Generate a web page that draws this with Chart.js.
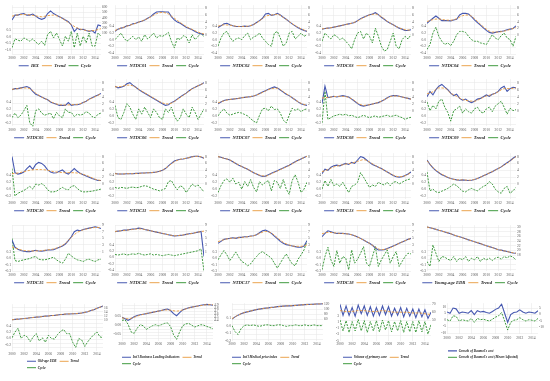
<!DOCTYPE html>
<html>
<head>
<meta charset="utf-8">
<script src="https://cdn.jsdelivr.net/npm/chart.js@4.4.0/dist/chart.umd.min.js"></script>
<style>
  body { margin: 0; background: #fff; }
  #wrap { position: relative; width: 550px; height: 381px; overflow: hidden; }
  #wrap canvas { position: absolute; }
</style>
</head>
<body>
<div id="wrap"></div>
<script>
// x positions (years) of the sampled points
const halfYears = [2000, 2000.5, 2001, 2001.5, 2002, 2002.5, 2003, 2003.5, 2004, 2004.5, 2005, 2005.5, 2006, 2006.5, 2007, 2007.5,
  2008, 2008.5, 2009, 2009.5, 2010, 2010.5, 2011, 2011.5, 2012, 2012.5, 2013, 2013.5, 2014, 2014.5, 2015];
const trendYears = [2000, 2001, 2002, 2003, 2004, 2005, 2006, 2007, 2008, 2009, 2010, 2011, 2012, 2013, 2014, 2015];
const tickYears = [2000, 2002, 2004, 2006, 2008, 2010, 2012, 2014];

// --- series (original, trend, cycle) ---
const irxOrig = [356, 450, 450, 470, 480, 450, 450, 470, 430, 390, 370, 390, 480, 530, 480, 450, 420, 390, 356, 325, 262, 137, 200, 170, 180, 156, 137, 156, 106, 262, 244];
const irxTrend = [430, 455, 460, 455, 435, 420, 440, 450, 415, 350, 270, 205, 170, 150, 160, 190];
const irxCycle = [-0.83, -0.15, -0.25, -0.33, -0.08, -0.2, -0.33, -0.15, -0.4, -0.58, -0.33, -0.65, 0.18, 0.43, -0.08, 0.3, -0.2, -0.7, 0.05, -0.33, 0.43, -0.83, 0.3, -0.7, 0.05, -0.45, 0.3, -0.7, -0.7, 0.3, 0.05];

const ntdc01Orig = [1.0, 1.7, 2.0, 2.2, 2.7, 2.9, 3.3, 3.5, 3.9, 4.1, 4.5, 5.0, 5.5, 6.3, 6.9, 7.0, 7.0, 6.9, 6.9, 5.5, 4.5, 3.9, 3.5, 2.9, 2.3, 1.9, 1.5, 1.0, 0.5, 0.3, 0.0];
const ntdc01Trend = [1.3, 2.0, 2.6, 3.2, 3.8, 4.5, 5.4, 6.4, 6.8, 6.3, 5.0, 3.7, 2.5, 1.6, 0.8, 0.2];
const ntdc01Cycle = [0.0, 0.1, 0.2, 0.05, -0.05, 0.02, 0.1, 0.0, 0.08, -0.05, 0.15, 0.02, 0.1, 0.2, 0.05, 0.12, 0.1, 0.15, 0.22, -0.05, -0.25, 0.05, 0.0, 0.12, 0.08, -0.1, 0.15, 0.0, 0.1, 0.2, 0.08];

const ntdc02Orig = [2.2, 2.7, 3.3, 3.5, 3.0, 2.7, 2.5, 2.5, 2.5, 2.6, 2.5, 2.7, 3.1, 3.7, 4.3, 5.0, 6.3, 6.5, 5.9, 6.1, 6.5, 6.0, 5.3, 4.7, 4.0, 3.3, 2.7, 2.1, 1.7, 1.3, 1.0];
const ntdc02Trend = [2.6, 3.0, 2.9, 2.6, 2.5, 2.6, 3.1, 4.2, 5.6, 6.0, 6.2, 5.3, 4.0, 2.8, 1.8, 1.1];
const ntdc02Cycle = [-0.2, 0.05, 0.2, 0.25, 0.08, -0.05, 0.02, 0.05, 0.0, 0.12, 0.2, 0.0, 0.08, 0.12, 0.2, 0.05, -0.05, -0.15, -0.2, 0.2, 0.25, 0.05, -0.2, -0.1, 0.2, 0.25, 0.02, 0.1, 0.2, 0.1, 0.15];

const ntdc03Orig = [1.7, 1.9, 2.0, 2.1, 2.3, 2.5, 2.7, 2.9, 3.1, 3.3, 3.5, 3.7, 4.3, 4.9, 5.3, 5.7, 6.1, 6.3, 6.7, 6.1, 5.3, 4.7, 4.0, 3.5, 3.0, 2.5, 2.0, 1.7, 1.3, 1.3, 1.5];
const ntdc03Trend = [1.8, 2.0, 2.3, 2.7, 3.1, 3.5, 4.2, 5.2, 6.0, 6.3, 5.5, 4.1, 3.0, 2.1, 1.5, 1.4];
const ntdc03Cycle = [-0.05, 0.2, 0.1, 0.02, 0.15, 0.1, 0.0, 0.05, -0.05, -0.15, -0.28, 0.0, 0.2, 0.25, 0.02, 0.2, 0.1, -0.1, 0.35, 0.1, -0.2, -0.35, -0.3, -0.05, 0.2, -0.2, -0.28, 0.0, 0.1, 0.02, 0.15];

const ntdc04Orig = [3.5, 4.3, 5.0, 5.7, 5.0, 4.3, 4.3, 4.3, 4.2, 4.5, 4.7, 6.0, 6.5, 6.5, 6.3, 5.5, 4.5, 3.7, 2.9, 2.1, 1.3, 0.7, 0.5, 0.7, 0.9, 1.0, 1.2, 1.5, 1.7, 1.9, 2.7];
const ntdc04Trend = [4.0, 4.6, 4.8, 4.5, 4.4, 4.9, 5.8, 6.0, 4.9, 3.2, 1.7, 0.8, 0.8, 1.1, 1.6, 2.2];
const ntdc04Cycle = [-0.3, -0.15, 0.2, 0.38, 0.1, -0.05, -0.15, -0.1, -0.18, -0.05, 0.15, 0.25, 0.25, 0.22, 0.1, 0.0, -0.05, -0.05, -0.1, -0.12, -0.15, 0.0, 0.15, 0.05, 0.0, 0.12, 0.2, 0.05, 0.0, -0.2, 0.1];

const ntdc05Orig = [6.0, 6.3, 6.3, 6.5, 6.7, 6.9, 6.5, 5.5, 4.7, 4.3, 3.9, 3.5, 3.1, 2.5, 2.1, 1.8, 1.5, 1.5, 1.5, 2.3, 1.5, 1.7, 1.7, 1.9, 2.3, 2.7, 3.3, 3.7, 4.1, 4.5, 4.9];
const ntdc05Trend = [6.1, 6.3, 6.5, 6.3, 5.0, 3.9, 3.1, 2.2, 1.7, 1.6, 1.7, 1.8, 2.3, 3.2, 4.0, 4.8];
const ntdc05Cycle = [-0.05, 0.08, -0.05, 0.02, 0.15, 0.3, -0.2, -0.3, 0.15, 0.2, 0.08, 0.02, 0.05, 0.08, -0.08, 0.1, 0.0, -0.05, 0.2, 0.1, 0.1, -0.02, 0.05, 0.02, 0.05, 0.12, 0.08, -0.02, -0.05, 0.05, 0.08];

const ntdc06Orig = [7.0, 6.5, 6.7, 7.0, 7.7, 8.0, 7.3, 6.7, 6.0, 5.5, 5.0, 4.5, 4.0, 3.5, 3.0, 2.5, 2.0, 1.5, 1.7, 2.3, 2.7, 3.3, 3.9, 4.5, 5.0, 5.7, 6.3, 6.7, 7.1, 7.5, 8.0];
const ntdc06Trend = [6.8, 6.9, 7.3, 7.1, 6.1, 5.1, 4.1, 3.1, 2.2, 1.9, 2.6, 3.8, 5.0, 6.2, 7.1, 7.9];
const ntdc06Cycle = [0.3, -0.05, -0.1, 0.1, 0.35, 0.25, 0.05, -0.1, 0.2, 0.05, 0.25, 0.1, -0.05, 0.2, 0.1, -0.05, -0.1, 0.2, 0.1, 0.25, 0.0, -0.15, -0.05, 0.2, 0.05, -0.05, 0.25, 0.1, -0.1, 0.05, 0.2];

const ntdc07Orig = [2.0, 2.5, 2.9, 3.1, 3.2, 3.3, 3.4, 3.5, 3.7, 3.8, 3.9, 4.0, 4.2, 4.5, 4.9, 5.3, 5.7, 6.1, 6.5, 6.8, 6.5, 5.9, 5.3, 4.7, 4.3, 3.7, 3.1, 2.5, 2.0, 1.7, 1.5];
const ntdc07Trend = [2.2, 2.8, 3.2, 3.4, 3.7, 3.9, 4.2, 4.8, 5.6, 6.3, 6.4, 5.4, 4.3, 3.1, 2.1, 1.5];
const ntdc07Cycle = [0.0, 0.12, 0.2, 0.08, 0.02, 0.05, 0.08, 0.1, 0.08, 0.04, 0.0, -0.08, -0.15, -0.2, 0.02, 0.2, 0.22, 0.15, 0.28, 0.18, 0.2, 0.08, -0.12, -0.2, 0.02, 0.22, 0.16, 0.2, 0.12, 0.18, 0.2];

const ntdc08Orig = [2.0, 7.0, 3.7, 3.9, 4.1, 3.9, 4.1, 4.3, 4.1, 3.9, 3.3, 2.7, 2.0, 1.5, 1.3, 1.5, 1.7, 1.9, 2.1, 2.3, 2.7, 3.1, 3.7, 4.1, 4.3, 4.3, 4.1, 3.9, 3.7, 3.5, 3.3];
const ntdc08Trend = [3.6, 3.8, 4.0, 4.1, 4.0, 3.4, 2.2, 1.5, 1.7, 2.1, 2.7, 3.6, 4.2, 4.1, 3.7, 3.3];
const ntdc08Cycle = [-0.2, 0.7, -0.1, -0.05, 0.0, 0.02, 0.05, 0.02, 0.05, 0.0, 0.02, -0.02, -0.05, -0.02, 0.02, -0.02, -0.05, -0.02, 0.0, -0.04, -0.02, 0.0, 0.02, -0.02, 0.0, 0.02, -0.02, -0.05, -0.1, -0.06, -0.04];

const ntdc09Orig = [4.0, 5.5, 4.5, 6.0, 7.0, 7.5, 6.7, 6.0, 5.0, 4.3, 4.7, 3.5, 3.0, 3.3, 2.7, 2.3, 2.7, 3.3, 3.5, 4.0, 4.5, 4.1, 4.7, 5.0, 5.5, 6.5, 7.0, 5.5, 6.3, 6.7, 6.5];
const ntdc09Trend = [4.8, 5.4, 6.5, 6.4, 5.0, 4.1, 3.2, 2.8, 2.7, 3.4, 4.2, 4.6, 5.4, 6.3, 6.3, 6.5];
const ntdc09Cycle = [0.4, 0.15, 0.3, 0.2, 0.42, 0.48, 0.25, 0.1, -0.15, 0.15, 0.2, 0.28, 0.08, 0.2, 0.12, 0.08, 0.2, 0.25, 0.12, 0.08, 0.2, 0.25, 0.12, 0.28, 0.35, 0.42, 0.25, 0.05, 0.22, 0.15, 0.18];

const ntdc10Orig = [8.0, 3.3, 2.9, 3.1, 3.5, 4.5, 5.3, 4.3, 5.7, 6.3, 6.0, 5.3, 4.1, 3.5, 3.2, 3.3, 3.7, 4.1, 3.3, 2.9, 3.7, 4.5, 3.7, 3.1, 2.7, 2.3, 2.0, 1.6, 1.3, 1.0, 1.0];
const ntdc10Trend = [3.0, 3.2, 3.6, 4.0, 4.2, 4.2, 4.0, 3.6, 3.4, 3.3, 3.3, 3.2, 2.8, 2.2, 1.4, 1.0];
const ntdc10Cycle = [0.6, -0.2, -0.12, -0.08, -0.04, 0.02, 0.08, 0.0, 0.15, 0.12, 0.16, 0.1, -0.02, -0.08, -0.08, -0.06, 0.0, 0.05, 0.0, -0.02, 0.08, 0.1, 0.02, -0.05, -0.08, -0.08, -0.07, -0.06, -0.04, -0.02, 0.0];

const ntdc11Orig = [3.1, 2.9, 2.9, 2.9, 3.0, 3.0, 3.0, 3.1, 3.1, 3.2, 3.2, 3.3, 3.3, 3.4, 3.5, 3.7, 4.0, 4.5, 5.3, 6.0, 6.7, 7.0, 7.2, 7.3, 7.5, 7.7, 8.0, 8.1, 8.1, 7.9, 7.5];
const ntdc11Trend = [3.0, 2.9, 3.0, 3.0, 3.1, 3.2, 3.3, 3.5, 4.0, 5.2, 6.5, 7.2, 7.5, 7.9, 8.1, 7.6];
const ntdc11Cycle = [0.05, 0.02, 0.05, 0.04, 0.02, 0.05, 0.06, 0.04, 0.05, 0.08, 0.1, 0.08, 0.04, 0.0, -0.02, -0.05, -0.02, 0.02, 0.22, 0.25, 0.1, -0.02, 0.1, 0.05, -0.1, 0.02, 0.15, 0.08, 0.12, 0.02, -0.08];

const ntdc12Orig = [8.0, 7.8, 7.5, 7.3, 7.0, 6.5, 6.0, 5.5, 5.1, 4.7, 4.3, 3.8, 3.3, 2.9, 2.5, 2.2, 2.3, 2.7, 3.1, 3.5, 3.9, 4.3, 4.7, 5.1, 5.5, 6.0, 6.5, 6.9, 7.3, 7.7, 8.1];
const ntdc12Trend = [8.0, 7.5, 7.0, 6.0, 5.1, 4.3, 3.3, 2.6, 2.3, 3.0, 3.8, 4.6, 5.4, 6.4, 7.3, 8.1];
const ntdc12Cycle = [-0.1, 0.1, 0.25, 0.3, 0.2, 0.32, 0.15, 0.2, 0.0, 0.22, 0.08, 0.28, 0.05, -0.08, 0.22, 0.12, 0.2, 0.25, -0.05, 0.25, 0.2, 0.02, 0.28, 0.0, -0.15, 0.25, 0.42, 0.2, -0.1, 0.0, 0.2];

const ntdc13Orig = [3.0, 4.3, 4.0, 4.9, 5.3, 5.5, 5.3, 5.7, 6.0, 5.7, 6.3, 6.0, 7.0, 8.0, 7.7, 7.0, 6.3, 5.7, 5.3, 4.9, 4.5, 4.0, 3.5, 3.0, 2.5, 2.1, 2.0, 2.1, 2.5, 2.9, 3.5];
const ntdc13Trend = [3.6, 4.2, 5.0, 5.4, 5.8, 6.1, 6.6, 7.1, 6.4, 5.4, 4.5, 3.5, 2.6, 2.1, 2.4, 3.3];
const ntdc13Cycle = [0.0, 0.25, 0.08, 0.28, 0.1, 0.15, 0.08, 0.2, 0.05, -0.1, 0.08, 0.12, 0.2, 0.48, 0.35, 0.2, 0.05, 0.12, 0.08, 0.2, 0.15, 0.12, 0.2, 0.1, 0.2, 0.22, 0.15, 0.2, 0.25, 0.28, 0.3];

const ntdc14Orig = [7.0, 5.7, 4.7, 3.9, 3.3, 2.7, 2.3, 1.9, 1.6, 1.4, 1.2, 1.1, 1.2, 1.1, 1.0, 1.1, 1.3, 1.6, 2.0, 2.4, 2.8, 3.2, 3.6, 4.1, 4.5, 5.0, 5.6, 6.2, 6.8, 7.5, 8.1];
const ntdc14Trend = [6.8, 4.8, 3.4, 2.4, 1.6, 1.2, 1.2, 1.1, 1.3, 2.0, 2.8, 3.6, 4.5, 5.5, 6.7, 8.0];
const ntdc14Cycle = [0.5, -0.05, 0.0, -0.08, -0.1, -0.06, -0.02, 0.02, 0.08, 0.15, 0.1, 0.02, -0.06, -0.08, -0.02, 0.02, -0.02, -0.05, 0.02, 0.08, 0.12, 0.22, 0.15, 0.0, -0.08, -0.12, 0.02, 0.08, -0.12, -0.05, 0.05];

const ntdc15Orig = [4.5, 2.3, 1.7, 1.3, 1.1, 1.0, 1.0, 1.2, 1.4, 1.2, 1.1, 1.3, 1.5, 1.5, 1.6, 1.9, 2.3, 2.7, 3.3, 4.3, 5.5, 7.0, 7.5, 7.3, 7.7, 7.9, 8.1, 8.3, 8.5, 8.3, 8.0];
const ntdc15Trend = [2.4, 1.8, 1.3, 1.2, 1.2, 1.3, 1.5, 1.8, 2.4, 3.5, 5.3, 6.8, 7.6, 8.0, 8.3, 8.3];
const ntdc15Cycle = [0.65, -0.02, -0.05, -0.02, 0.0, 0.02, 0.04, 0.08, 0.1, 0.02, 0.0, 0.0, 0.02, 0.05, 0.08, 0.0, -0.06, -0.1, 0.02, 0.2, 0.12, 0.05, 0.0, -0.02, -0.05, 0.0, 0.02, -0.02, -0.05, 0.0, 0.02];

const ntdc16Orig = [7.0, 7.2, 7.3, 7.5, 7.5, 7.7, 7.8, 7.9, 8.1, 8.0, 7.7, 7.5, 7.3, 7.1, 6.9, 6.7, 6.5, 6.3, 6.1, 5.9, 5.7, 5.8, 5.9, 6.0, 6.2, 6.4, 6.5, 6.7, 6.9, 7.1, -0.5];
const ntdc16Trend = [7.1, 7.3, 7.5, 7.7, 7.9, 7.7, 7.3, 6.9, 6.5, 6.1, 5.8, 5.9, 6.2, 6.5, 6.9, 7.2];
const ntdc16Cycle = [0.1, 0.08, 0.1, 0.12, 0.08, 0.1, 0.12, 0.1, 0.14, 0.1, 0.08, 0.1, 0.12, 0.08, 0.1, 0.08, 0.06, 0.08, 0.1, 0.08, 0.06, 0.08, 0.1, 0.12, 0.14, 0.16, 0.18, 0.2, 0.22, 0.28, -0.45];

const ntdc17Orig = [3.5, 4.1, 4.7, 4.9, 5.0, 5.2, 5.0, 5.3, 5.3, 5.5, 5.5, 5.7, 5.8, 6.1, 6.7, 7.3, 7.5, 7.1, 6.5, 5.7, 4.9, 4.1, 3.5, 3.1, 2.9, 2.7, 2.5, 2.3, 2.3, 2.7, 4.3];
const ntdc17Trend = [4.0, 4.6, 5.0, 5.1, 5.3, 5.5, 5.8, 6.5, 7.1, 6.6, 5.2, 3.8, 3.0, 2.6, 2.6, 3.0];
const ntdc17Cycle = [0.0, 0.15, 0.28, 0.15, -0.02, 0.1, 0.24, 0.08, -0.05, -0.1, -0.18, -0.12, 0.0, 0.1, 0.2, 0.25, 0.18, 0.12, 0.05, -0.1, -0.25, -0.1, 0.05, 0.18, 0.02, -0.12, -0.18, 0.02, 0.15, 0.3, 0.58];

const ntdc18Orig = [5.5, 6.5, 7.3, 7.0, 6.7, 6.5, 6.5, 6.5, 6.4, 6.3, 6.1, 5.8, 5.4, 5.0, 4.5, 4.0, 3.5, 2.9, 2.1, 1.5, 1.5, 1.6, 1.9, 2.3, 2.7, 3.1, 3.5, 3.9, 4.3, 4.7, 5.0];
const ntdc18Trend = [6.4, 6.8, 6.7, 6.5, 6.4, 6.1, 5.4, 4.5, 3.5, 2.3, 1.6, 1.8, 2.6, 3.5, 4.3, 5.0];
const ntdc18Cycle = [-0.3, 0.1, 0.38, 0.0, -0.2, 0.28, -0.1, 0.1, 0.05, -0.3, 0.3, -0.1, 0.02, 0.2, 0.4, -0.1, -0.2, 0.1, 0.4, -0.2, 0.0, 0.15, 0.3, -0.1, 0.1, 0.25, -0.2, -0.05, 0.1, 0.2, 0.18];

const youngOrig = [30.0, 29.7, 29.4, 29.0, 28.6, 28.3, 27.9, 27.5, 27.1, 26.6, 26.2, 25.8, 25.4, 25.0, 24.5, 24.1, 23.7, 23.3, 22.9, 22.4, 22.0, 21.6, 21.2, 20.8, 20.3, 20.1, 19.8, 19.5, 19.2, 18.9, 18.8];
const youngTrend = [30.0, 29.4, 28.6, 27.9, 27.1, 26.2, 25.4, 24.5, 23.7, 22.9, 22.0, 21.2, 20.3, 19.8, 19.2, 18.8];
const youngCycle = [-0.05, -0.2, 0.45, 0.2, -0.05, 0.1, 0.08, 0.02, -0.02, 0.1, -0.05, 0.05, 0.0, 0.1, -0.05, 0.05, 0.0, 0.1, -0.05, 0.05, 0.0, 0.05, -0.02, 0.05, 0.08, 0.02, 0.1, 0.06, 0.12, 0.08, 0.0];

const oldOrig = [10.0, 10.2, 10.3, 10.5, 10.6, 10.8, 11.0, 11.1, 11.3, 11.4, 11.6, 11.8, 11.9, 12.1, 12.2, 12.4, 12.6, 12.7, 12.9, 12.9, 13.0, 13.0, 13.2, 13.4, 13.7, 14.0, 14.6, 15.0, 15.7, 16.3, 16.9];
const oldTrend = [10.0, 10.3, 10.6, 11.0, 11.3, 11.6, 11.9, 12.2, 12.6, 12.9, 13.0, 13.2, 13.7, 14.6, 15.7, 16.9];
const oldCycle = [0.02, 0.2, 0.32, 0.0, 0.1, 0.05, -0.1, 0.05, 0.15, -0.08, 0.02, -0.12, 0.1, 0.0, -0.02, 0.12, 0.22, 0.28, 0.15, 0.15, -0.12, -0.28, 0.0, -0.05, -0.25, -0.1, 0.02, 0.12, 0.2, 0.05, 0.02];

const busOrig = [4.5, 4.45, 4.4, 4.45, 4.52, 4.56, 4.58, 4.6, 4.62, 4.64, 4.66, 4.68, 4.7, 4.72, 4.75, 4.77, 4.72, 4.62, 4.55, 4.65, 4.74, 4.78, 4.81, 4.83, 4.85, 4.87, 4.89, 4.91, 4.92, 4.91, 4.89];
const busTrend = [4.48, 4.45, 4.5, 4.57, 4.62, 4.66, 4.7, 4.74, 4.73, 4.7, 4.74, 4.8, 4.85, 4.88, 4.91, 4.91];
const busCycle = [0.027, 0.03, 0.005, -0.037, -0.045, -0.017, 0.003, -0.003, -0.023, -0.013, -0.003, 0.003, -0.003, 0.003, 0.01, 0.013, -0.007, -0.053, -0.078, -0.037, -0.003, 0.007, 0.01, 0.0, -0.01, -0.003, 0.003, 0.0, -0.007, -0.013, -0.02];

const medOrig = [61, 70, 77, 83, 87, 90, 93, 96, 99, 101, 103, 105, 106, 108, 109, 111, 112, 113, 114, 114, 115, 116, 117, 118, 119, 120, 120, 121, 122, 122, 123];
const medTrend = [63, 77, 87, 93, 99, 103, 106, 109, 112, 114, 115, 117, 119, 120, 122, 123];
const medCycle = [0.0, -0.08, -0.12, -0.04, 0.0, 0.01, 0.0, 0.01, 0.0, -0.01, 0.0, 0.01, 0.01, 0.0, 0.0, 0.01, 0.01, 0.0, -0.01, 0.0, 0.0, 0.01, 0.0, 0.0, 0.01, 0.0, 0.0, 0.01, 0.0, 0.0, 0.0];

const volOrig = [70, 56, 68, 56, 66, 55, 69, 58, 68, 56, 67, 55, 66, 56, 68, 57, 67, 55, 65, 56, 66, 54, 65, 55, 64, 53, 64, 54, 63, 52, 60];
const volTrend = [62, 61, 61, 62, 62, 61, 61, 62, 61, 60, 60, 60, 59, 59, 58, 57];
const volCycle = [1.5, -2.0, 1.3, -2.5, 1.0, -2.0, 1.7, -2.0, 1.3, -2.5, 1.0, -2.0, 1.3, -2.3, 1.5, -1.7, 1.3, -2.3, 1.0, -2.0, 1.3, -2.5, 1.0, -2.3, 1.0, -2.5, 1.3, -2.3, 1.0, -3.0, 0.0];

const baumolGrowth = [2.0, 1.0, 5.0, 4.4, 1.0, 2.0, 1.6, 1.0, 3.0, 0.0, 3.0, 2.0, 2.4, 1.6, 1.0, 2.4, 4.0, 5.0, 8.0, 1.0, -6.0, 0.0, 1.6, 2.0, 3.6, 2.0, 1.0, 2.0, 1.6, 1.0, 3.0];
const baumolAdjusted = [0.0, -1.0, 3.0, 2.6, -1.0, 0.0, -0.6, -1.0, 1.0, -2.0, 1.0, 0.0, 0.4, -0.4, -1.0, 0.4, 2.0, 3.0, 5.6, -1.0, -8.0, -2.0, -0.4, 0.0, 1.6, 0.0, -1.0, 0.0, -0.4, -1.0, 1.0];

// axis settings: [min, max, step, label limit, decimals]
const R1 = [-6, 9, 2, 0, 0], L1 = [-0.45, 1.05, 0.2, 0.4, 1];
const R2 = [-4.5, 9, 2, 0, 0], L2 = [-0.3, 1.05, 0.2, 0.4, 1];
const R4 = [-5, 9, 2, 0, 0], L4 = [-0.35, 1.05, 0.2, 0.4, 1];

const panels = [
  { name: 'IRX', orig: irxOrig, trend: irxTrend, cycle: irxCycle, r: [-300, 640, 100, 100, 0], l: [-1.35, 2.45, 0.5, 0.5, 1] },
  { name: 'NTDC01', orig: ntdc01Orig, trend: ntdc01Trend, cycle: ntdc01Cycle, r: R1, l: L1 },
  { name: 'NTDC02', orig: ntdc02Orig, trend: ntdc02Trend, cycle: ntdc02Cycle, r: R1, l: L1 },
  { name: 'NTDC03', orig: ntdc03Orig, trend: ntdc03Trend, cycle: ntdc03Cycle, r: R1, l: L1 },
  { name: 'NTDC04', orig: ntdc04Orig, trend: ntdc04Trend, cycle: ntdc04Cycle, r: R1, l: L1 },
  { name: 'NTDC05', orig: ntdc05Orig, trend: ntdc05Trend, cycle: ntdc05Cycle, r: R2, l: L2 },
  { name: 'NTDC06', orig: ntdc06Orig, trend: ntdc06Trend, cycle: ntdc06Cycle, r: R2, l: L2 },
  { name: 'NTDC07', orig: ntdc07Orig, trend: ntdc07Trend, cycle: ntdc07Cycle, r: R2, l: L2 },
  { name: 'NTDC08', orig: ntdc08Orig, trend: ntdc08Trend, cycle: ntdc08Cycle, r: R2, l: L2 },
  { name: 'NTDC09', orig: ntdc09Orig, trend: ntdc09Trend, cycle: ntdc09Cycle, r: R2, l: L2 },
  { name: 'NTDC10', orig: ntdc10Orig, trend: ntdc10Trend, cycle: ntdc10Cycle, r: R2, l: L2 },
  { name: 'NTDC11', orig: ntdc11Orig, trend: ntdc11Trend, cycle: ntdc11Cycle, r: R2, l: L2 },
  { name: 'NTDC12', orig: ntdc12Orig, trend: ntdc12Trend, cycle: ntdc12Cycle, r: R2, l: L2 },
  { name: 'NTDC13', orig: ntdc13Orig, trend: ntdc13Trend, cycle: ntdc13Cycle, r: R2, l: L2 },
  { name: 'NTDC14', orig: ntdc14Orig, trend: ntdc14Trend, cycle: ntdc14Cycle, r: R2, l: L2 },
  { name: 'NTDC15', orig: ntdc15Orig, trend: ntdc15Trend, cycle: ntdc15Cycle, r: R4, l: L4 },
  { name: 'NTDC16', orig: ntdc16Orig, trend: ntdc16Trend, cycle: ntdc16Cycle, r: R4, l: [-0.45, 1.05, 0.2, 0.4, 1] },
  { name: 'NTDC17', orig: ntdc17Orig, trend: ntdc17Trend, cycle: ntdc17Cycle, r: R4, l: L4 },
  { name: 'NTDC18', orig: ntdc18Orig, trend: ntdc18Trend, cycle: ntdc18Cycle, r: R4, l: L4 },
  { name: 'Young-age EDR', orig: youngOrig, trend: youngTrend, cycle: youngCycle, r: [11, 30.8, 2, 18, 0], l: L4 },
  { name: 'Old-age EDR', orig: oldOrig, trend: oldTrend, cycle: oldCycle, r: [-5.4, 17.8, 2, 10, 0], l: [-0.38, 1.07, 0.2, 0.4, 1] },
  { name: "Int'l Business Leading Indicators", orig: busOrig, trend: busTrend, cycle: busCycle, r: [3.74, 4.96, 0.1, 4.4, 1], l: [-0.085, 0.122, 0.05, 0.05, 2] },
  { name: "Int'l Medical price index", orig: medOrig, trend: medTrend, cycle: medCycle, r: [-25, 125, 20, 60, 0], l: [-0.2, 0.3, 0.1, 0.1, 1] },
  { name: 'Volume of primary care', orig: volOrig, trend: volTrend, cycle: volCycle, r: [23.6, 71.6, 10, 50, 0], l: [-5.1, 6.9, 2, 4, 0] },
  { name: "Growth of Baumol's cost", orig: baumolGrowth, adjName: "Growth of Baumol's cost (Mean-Adjusted)", cycle: baumolAdjusted, r: [-15.2, 8.8, 5, -10, 0], l: [-11.2, 12.8, 5, 10, 0] }
];

// layout of the grid of small charts
const colLefts = [0, 103, 206, 310, 415];
const rowBoxes = [{ y: 2, h: 76 }, { y: 76, h: 74 }, { y: 150, h: 73 }, { y: 222, h: 73 }];
const lastRowLefts = [0, 110, 220, 328, 435];
// legend start / wrap width of the bottom row (two-line legends)
const lastRowLegend = [{ left: 24, width: 70 }, { left: 9, width: 100 }, { left: 9, width: 85 }, { left: 12, width: 85 }, { left: 10, width: 100 }];

const BLUE = '#4658b0', ORANGE = '#e99a3c', GREEN = '#3f9a3f';
const tickFont = { family: 'Liberation Serif', size: 3.6 };
const wrap = document.getElementById('wrap');

// lets a bottom legend start at a given x and wrap at a given width
const legendWrap = {
  id: 'legendWrap',
  beforeDraw(chart, args, opts) {
    if (!opts || !opts.width) return;
    const lg = chart.legend;
    lg.left = opts.left;
    lg.right = opts.left + opts.width;
  }
};

function pts(xs, ys) {
  return ys.map((v, i) => ({ x: xs[i], y: v }));
}

function yAxis(cfg, side, showGrid) {
  const [min, max, step, limit, dec] = cfg;
  return {
    type: 'linear', position: side, min: min, max: max,
    grid: { display: showGrid, color: '#e4e4e4', lineWidth: 0.5, drawTicks: false },
    border: { display: false },
    ticks: {
      font: tickFont, color: '#555', padding: 1, autoSkip: false, stepSize: step, includeBounds: false,
      callback: function(v) {
        const ok = side === 'right' ? v >= limit - 1e-9 : v <= limit + 1e-9;
        return ok ? Number(v).toFixed(dec) : '';
      }
    },
    afterFit: function(scale) { scale.width = side === 'left' ? 12 : 9; }
  };
}

function makePanel(p, box, legendBox) {
  const c = document.createElement('canvas');
  c.width = box.w; c.height = box.h;
  c.style.left = box.x + 'px'; c.style.top = box.y + 'px';
  wrap.appendChild(c);

  const datasets = [{
    label: p.name, data: pts(halfYears, p.orig), yAxisID: 'yR', order: 1,
    borderColor: BLUE, borderWidth: 1.1, pointRadius: 0, tension: 0
  }];
  if (p.trend) {
    datasets.push({
      label: 'Trend', data: pts(trendYears, p.trend), yAxisID: 'yR', order: 0,
      borderColor: ORANGE, borderWidth: 0.9, borderDash: [2.5, 1.5], pointRadius: 0,
      cubicInterpolationMode: 'monotone'
    });
  }
  datasets.push({
    label: p.adjName || 'Cycle', data: pts(halfYears, p.cycle), yAxisID: 'yL', order: 2,
    borderColor: GREEN, borderWidth: 1, borderDash: [2, 1.2], pointRadius: 0, tension: 0
  });

  new Chart(c, {
    type: 'line',
    data: { datasets: datasets },
    plugins: [legendWrap],
    options: {
      responsive: false, animation: false, events: [],
      layout: { padding: { top: 2, left: 0, right: 0, bottom: 0 } },
      scales: {
        x: {
          type: 'linear', min: 2000, max: 2015,
          grid: { color: '#e4e4e4', lineWidth: 0.5, drawTicks: false },
          border: { display: false },
          afterBuildTicks: function(scale) { scale.ticks = tickYears.map(v => ({ value: v })); },
          ticks: { font: tickFont, color: '#555', padding: 1.5, maxRotation: 0, autoSkip: false, callback: v => String(v) },
          afterFit: function(scale) { scale.height = box.axisH; }
        },
        yL: yAxis(p.l, 'left', false),
        yR: yAxis(p.r, 'right', true)
      },
      plugins: {
        tooltip: { enabled: false },
        legendWrap: legendBox || {},
        legend: {
          position: 'bottom', align: legendBox ? 'start' : 'center',
          labels: {
            usePointStyle: true, pointStyle: 'line', pointStyleWidth: legendBox ? 9 : 10, padding: 3,
            color: '#222',
            font: { family: 'Liberation Serif', size: legendBox ? 3.4 : 4.6, style: 'italic', weight: 'bold' },
            sort: (a, b) => a.datasetIndex - b.datasetIndex
          }
        }
      }
    }
  });
}

panels.forEach(function(p, i) {
  const row = Math.floor(i / 5), col = i % 5;
  if (row < 4) {
    makePanel(p, { x: colLefts[col], y: rowBoxes[row].y, w: 110, h: rowBoxes[row].h, axisH: 6 }, null);
  } else if (col === 0) {
    makePanel(p, { x: lastRowLefts[col], y: 301, w: 112, h: 72, axisH: 6 }, lastRowLegend[col]);
  } else {
    makePanel(p, { x: lastRowLefts[col], y: 300, w: 112, h: 69, axisH: 12 }, lastRowLegend[col]);
  }
});
</script>
</body>
</html>
